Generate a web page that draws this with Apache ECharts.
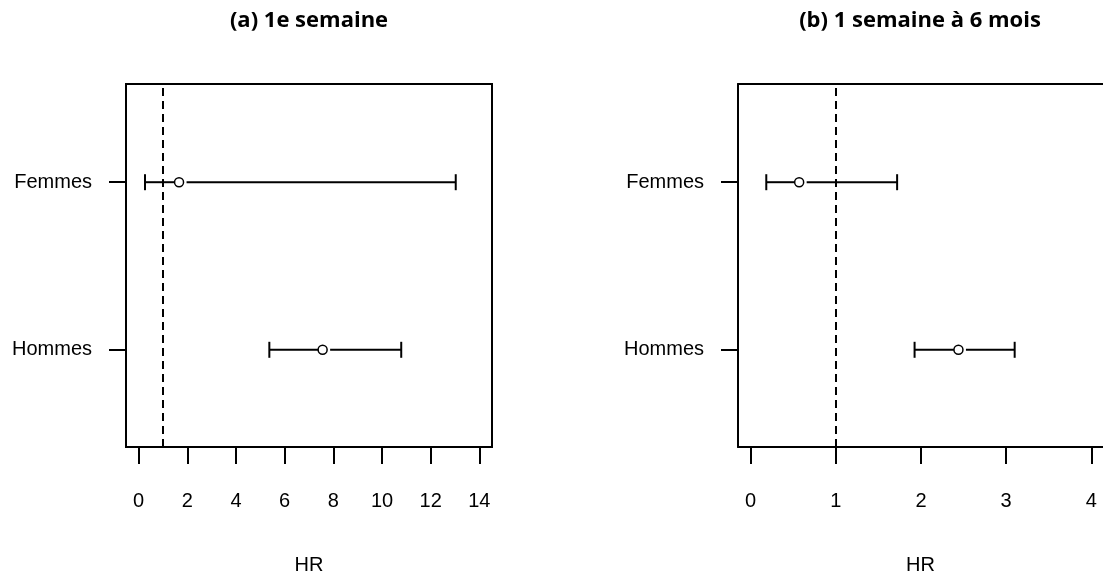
<!DOCTYPE html>
<html>
<head>
<meta charset="utf-8">
<script src="https://cdn.jsdelivr.net/npm/echarts@6/dist/echarts.min.js"></script>
<style>
  html, body { margin: 0; padding: 0; background: #fff; }
  #chart { width: 1103px; height: 580px; }
</style>
</head>
<body>
<div id="chart"></div>
<script>
// groupes et position sur l'axe y (Femmes en haut)
const groups = ["Femmes", "Hommes"];
const groupPos = [2, 1];

// (a) 1e semaine
const hrA = [1.66, 7.56];
const lowA = [0.26, 5.37];
const highA = [13.03, 10.79];

// (b) 1 semaine à 6 mois
const hrB = [0.57, 2.44];
const lowB = [0.184, 1.925];
const highB = [1.72, 3.1];

const ticksA = [0, 2, 4, 6, 8, 10, 12, 14];
const ticksB = [0, 1, 2, 3, 4];
const refHR = 1;

const titles = ["(a) 1e semaine", "(b) 1 semaine à 6 mois"];

const labelFont = "Liberation Sans";
const black = "#000";
const lw = 2;

function buildRows(low, hr, high) {
  return groupPos.map((y, i) => [y, low[i], hr[i], high[i]]);
}

// segment + point + bornes, comme un plot R
function renderCI(params, api) {
  const y = api.value(0);
  const pLo = api.coord([api.value(1), y]);
  const pEst = api.coord([api.value(2), y]);
  const pHi = api.coord([api.value(3), y]);
  const r = 4.5;
  const cap = 8;
  const ls = { stroke: black, lineWidth: lw };
  return {
    type: "group",
    children: [
      { type: "line", shape: { x1: pLo[0], y1: pLo[1], x2: pEst[0] - r, y2: pEst[1] }, style: ls },
      { type: "line", shape: { x1: pEst[0] + r + 3, y1: pEst[1], x2: pHi[0], y2: pHi[1] }, style: ls },
      { type: "line", shape: { x1: pLo[0], y1: pLo[1] - cap, x2: pLo[0], y2: pLo[1] + cap }, style: ls },
      { type: "line", shape: { x1: pHi[0], y1: pHi[1] - cap, x2: pHi[0], y2: pHi[1] + cap }, style: ls },
      { type: "circle", shape: { cx: pEst[0], cy: pEst[1], r: r }, style: { fill: "#fff", stroke: black, lineWidth: 1.5 } },
    ],
  };
}

function xAxisCfg(gridIndex, min, max, ticks, showLine) {
  return {
    type: "value",
    gridIndex,
    min,
    max,
    name: "HR",
    nameLocation: "middle",
    nameGap: 108,
    nameTextStyle: { color: black, fontSize: 20, fontFamily: labelFont },
    axisLine: { show: showLine, onZero: false, lineStyle: { color: black, width: lw } },
    splitLine: { show: false },
    axisTick: {
      show: true,
      inside: false,
      length: 17,
      customValues: ticks,
      lineStyle: { color: black, width: lw },
    },
    axisLabel: {
      customValues: ticks,
      margin: 44,
      color: black,
      fontSize: 20,
      fontFamily: labelFont,
    },
  };
}

function yAxisCfg(gridIndex, showLine) {
  return {
    type: "value",
    gridIndex,
    min: 0.42,
    max: 2.586,
    axisLine: { show: showLine, onZero: false, lineStyle: { color: black, width: lw } },
    splitLine: { show: false },
    axisTick: {
      show: true,
      inside: false,
      length: 17,
      customValues: groupPos,
      lineStyle: { color: black, width: lw },
    },
    axisLabel: {
      customValues: groupPos,
      margin: 34,
      padding: [8, 0, 0, 0],
      color: black,
      fontSize: 20,
      fontFamily: labelFont,
      formatter: (v) => groups[groupPos.indexOf(v)] || "",
    },
  };
}

function ciSeries(idx, rows) {
  return {
    type: "custom",
    xAxisIndex: idx,
    yAxisIndex: idx,
    renderItem: renderCI,
    encode: { x: [1, 2, 3], y: 0 },
    data: rows,
    silent: true,
    markLine: {
      silent: true,
      symbol: "none",
      label: { show: false },
      lineStyle: { color: black, type: [8, 5], width: lw },
      data: [{ xAxis: refHR }],
    },
  };
}

const chart = echarts.init(document.getElementById("chart"));
chart.setOption({
  animation: false,
  backgroundColor: "#fff",
  graphic: [
    {
      type: "text",
      x: 309,
      y: 21,
      style: { text: titles[0], font: 'bold 22px "Open Sans"', fill: black, align: "center", verticalAlign: "middle" },
    },
    {
      type: "text",
      x: 920,
      y: 21,
      style: { text: titles[1], font: 'bold 22px "Open Sans"', fill: black, align: "center", verticalAlign: "middle" },
    },
  ],
  grid: [
    { left: 126, top: 84, width: 366, height: 363, show: true, borderColor: black, borderWidth: lw },
    // panneau (b) coupé à droite dans l'original : pas de bord droit, cadre fait par les lignes d'axe
    { left: 738, top: 84, width: 365, height: 363, show: false },
  ],
  xAxis: [
    xAxisCfg(0, -0.52, 14.52, ticksA, false),
    xAxisCfg(1, -0.148, 4.137, ticksB, true),
    {
      type: "value",
      gridIndex: 1,
      position: "top",
      min: -0.148,
      max: 4.137,
      axisLine: { show: true, onZero: false, lineStyle: { color: black, width: lw } },
      axisTick: { show: false },
      axisLabel: { show: false },
      splitLine: { show: false },
    },
  ],
  yAxis: [yAxisCfg(0, false), yAxisCfg(1, true)],
  series: [ciSeries(0, buildRows(lowA, hrA, highA)), ciSeries(1, buildRows(lowB, hrB, highB))],
});
</script>
</body>
</html>
